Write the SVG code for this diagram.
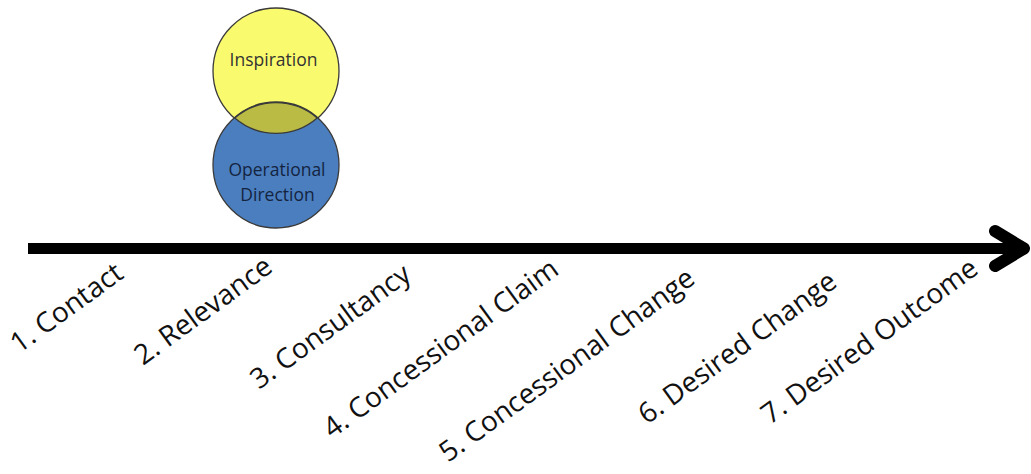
<svg xmlns="http://www.w3.org/2000/svg" width="1031" height="474" viewBox="0 0 1031 474">
<style>
.lbl{font-family:"Open Sans","Liberation Sans",sans-serif;font-size:28px;fill:#111}
.ctext{font-family:"Open Sans","Liberation Sans",sans-serif;font-size:17.5px;text-anchor:middle}
.circ{stroke:#3a3a3a;stroke-width:1.3}
</style>
<rect width="1031" height="474" fill="#ffffff"/>
<g id="connectors">
<line x1="28" y1="248.5" x2="1022" y2="248.5" stroke="#000" stroke-width="11"/>
<polyline points="995,231 1024,248.5 995,266" fill="none" stroke="#000" stroke-width="12" stroke-linecap="round" stroke-linejoin="round"/>
</g>
<g id="inspiration">
<circle class="circ" cx="276" cy="71" r="63" fill="#FAFA6E"/>
</g>
<g id="operational-direction">
<circle class="circ" cx="276" cy="165" r="63" fill="#4A7EBF"/>
<path class="circ" d="M234.8,118 A63,63 0 0 1 317.2,118 A63,63 0 0 1 234.8,118 Z" fill="#B9BB44"/>
<text class="ctext" x="277" y="176" fill="#14243f">Operational</text>
<text class="ctext" x="277.5" y="201" fill="#14243f">Direction</text>
</g>
<g id="inspiration-label">
<text class="ctext" x="273.5" y="66" fill="#333">Inspiration</text>
</g>
<g id="label-1"><text class="lbl" transform="translate(19,354) rotate(-36)">1. Contact</text></g>
<g id="label-2"><text class="lbl" transform="translate(143,366) rotate(-36)">2. Relevance</text></g>
<g id="label-3"><text class="lbl" transform="translate(259,390) rotate(-36)">3. Consultancy</text></g>
<g id="label-4"><text class="lbl" transform="translate(332,439) rotate(-36)">4. Concessional Claim</text></g>
<g id="label-5"><text class="lbl" transform="translate(448,463) rotate(-36)">5. Concessional Change</text></g>
<g id="label-6"><text class="lbl" transform="translate(647,425) rotate(-36)">6. Desired Change</text></g>
<g id="label-7"><text class="lbl" transform="translate(770,425) rotate(-36)">7. Desired Outcome</text></g>
</svg>
